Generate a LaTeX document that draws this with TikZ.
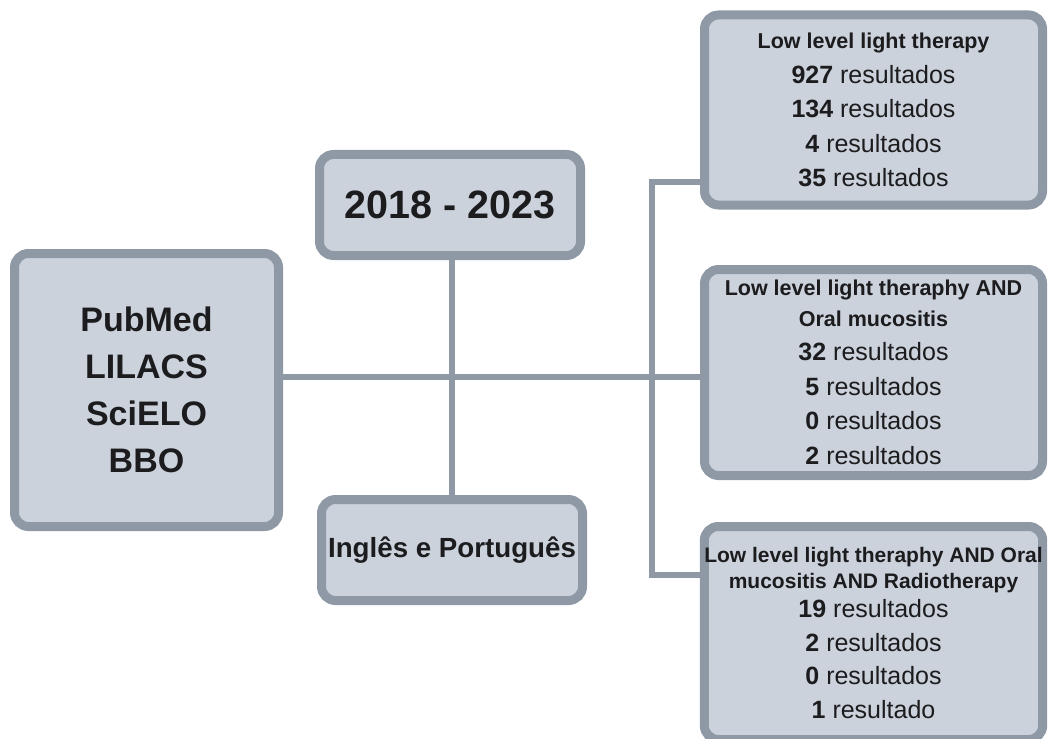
\documentclass[tikz,border=0pt]{standalone}
\usepackage{fontspec}
\setmainfont{Liberation Sans}
\definecolor{boxfill}{RGB}{203,210,220}
\definecolor{boxline}{RGB}{142,153,165}
\definecolor{txt}{RGB}{28,28,30}
\begin{document}
\begin{tikzpicture}[x=1pt,y=-1pt,
  box/.style={draw=boxline, fill=boxfill, line width=9pt, rounded corners=14pt, inner sep=0pt, align=center, text=txt},
  conn/.style={draw=boxline, line width=5.5pt},
  res/.style={font=\fontsize{25}{34.5}\selectfont}]
\useasboundingbox (0,0) rectangle (1048,738);
\clip (0,0) rectangle (1048,738);
\node[box, minimum width=264pt, minimum height=273pt, font=\bfseries\fontsize{34}{47}\selectfont] (L) at (146.5,390) {PubMed\\LILACS\\SciELO\\BBO};
\node[box, minimum width=261pt, minimum height=101pt, font=\bfseries\fontsize{39.5}{44}\selectfont] (T) at (450,205) {2018 - 2023};
\node[box, minimum width=261pt, minimum height=101pt, font=\bfseries\fontsize{27.7}{32}\selectfont] (I) at (452,550) {Inglês e Português};
\node[box, res, minimum width=338pt, minimum height=190pt] (B1) at (873.5,110)
  {{\bfseries\fontsize{21.5}{26}\selectfont Low level light therapy}\\
   \textbf{927} resultados\\ \textbf{134} resultados\\ \textbf{4} resultados\\ \textbf{35} resultados};
\node[box, res, minimum width=338pt, minimum height=206pt] (B2) at (873.5,372.5)
  {{\bfseries\fontsize{21.5}{26}\selectfont Low level light theraphy AND}\\[-4pt]
   {\bfseries\fontsize{21.5}{26}\selectfont Oral mucositis}\\
   \textbf{32} resultados\\ \textbf{5} resultados\\ \textbf{0} resultados\\ \textbf{2} resultados};
\node[box, minimum width=338pt, minimum height=213pt, font=\fontsize{25}{33.5}\selectfont] (B3) at (873.5,633)
  {{\bfseries\fontsize{21}{26}\selectfont Low level light theraphy AND Oral}\\[-8pt]
   {\bfseries\fontsize{21}{26}\selectfont mucositis AND Radiotherapy}\\[-4pt]
   \textbf{19} resultados\\ \textbf{2} resultados\\ \textbf{0} resultados\\ \textbf{1} resultado};
\coordinate (hub) at (452,377);
\coordinate (b1) at (652,182);
\coordinate (b3) at (652,575);
\draw[conn] (L.east |- hub) -- (B2.west |- hub);
\draw[conn] (T.south -| hub) -- (I.north -| hub);
\draw[conn] (B1.west |- b1) -- (b1) -- (b3) -- (B3.west |- b3);
\end{tikzpicture}
\end{document}
